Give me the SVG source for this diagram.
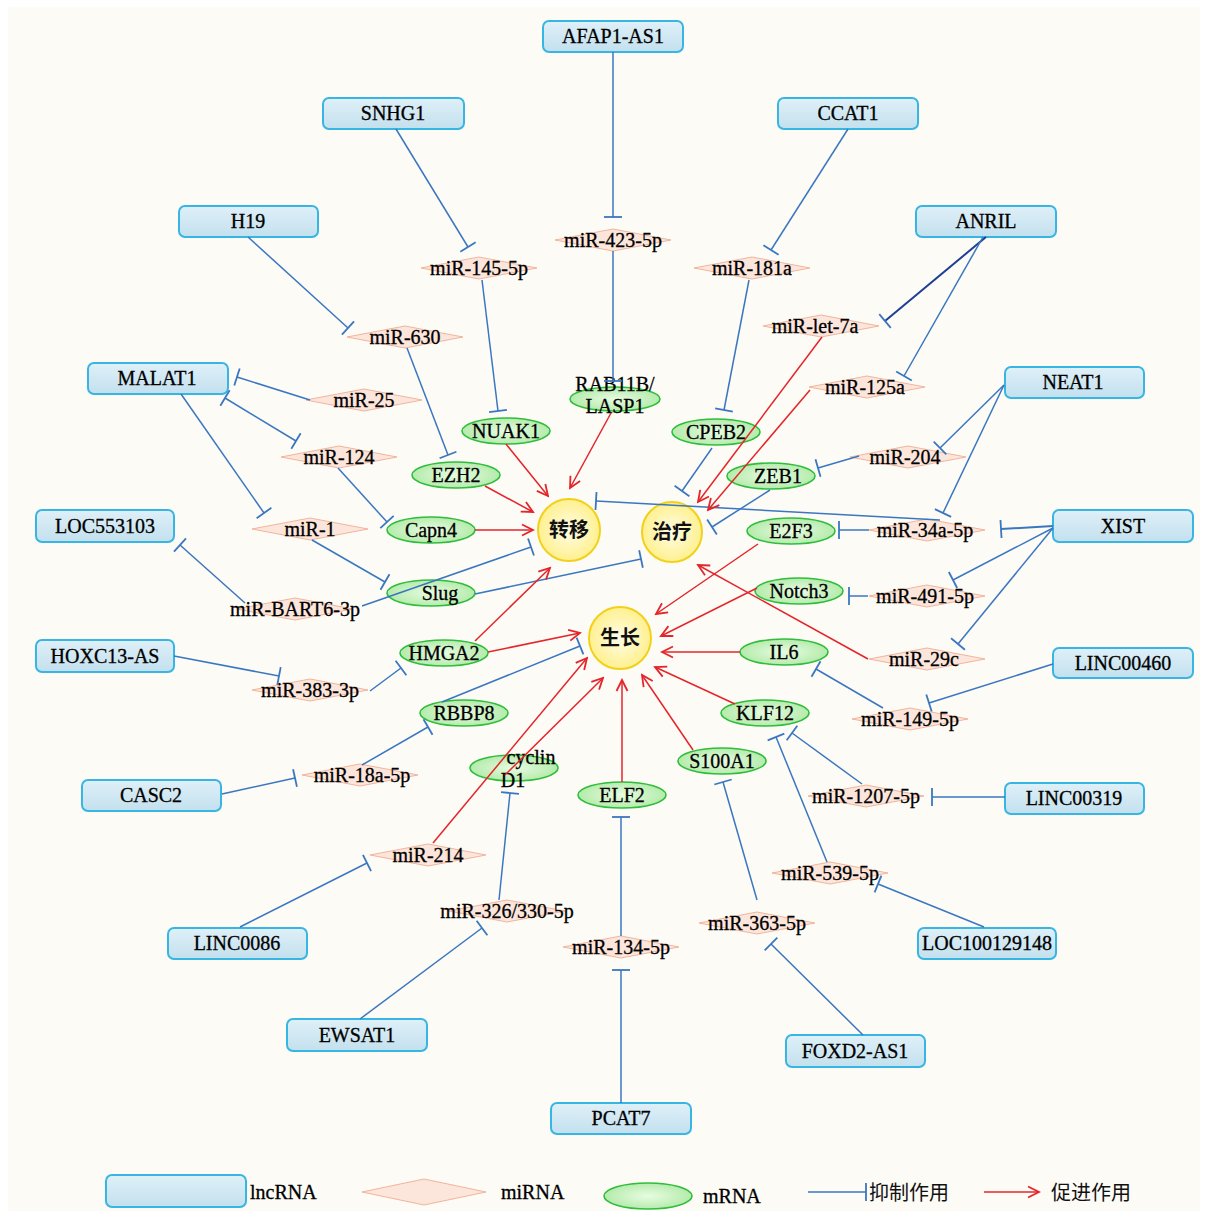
<svg xmlns="http://www.w3.org/2000/svg" width="1209" height="1218" viewBox="0 0 1209 1218">
<style>
.box{fill:url(#gb);stroke:#38b6e3;stroke-width:2}
.mi{fill:#fce6dc;stroke:#f3b49c;stroke-width:1}
.m{fill:url(#gg);stroke:#2fbd3c;stroke-width:1.6}
.c{fill:url(#gy);stroke:#f1d11c;stroke-width:2}
.t{font-family:"Liberation Serif","Times New Roman",serif;font-size:20px;fill:#000;stroke:#000;stroke-width:0.3;text-anchor:middle}
.tl{font-family:"Liberation Serif","Times New Roman",serif;font-size:20px;fill:#000;stroke:#000;stroke-width:0.3}
.zh{font-family:"Noto Sans CJK SC",sans-serif;font-size:20px;font-weight:bold;fill:#111;text-anchor:middle}
.zl{font-family:"Noto Sans CJK SC",sans-serif;font-size:20px;fill:#111}
.inh{stroke:#3a77c0;stroke-width:1.5;fill:none;marker-end:url(#bar)}
.pro{stroke:#e4252b;stroke-width:1.5;fill:none;marker-end:url(#arr)}
</style>
<defs>
<linearGradient id="gb" x1="0" y1="0" x2="0" y2="1"><stop offset="0" stop-color="#dff0f8"/><stop offset="1" stop-color="#c3e0ee"/></linearGradient>
<radialGradient id="gg"><stop offset="0" stop-color="#e8fce2"/><stop offset="1" stop-color="#b5ebac"/></radialGradient>
<radialGradient id="gy"><stop offset="0" stop-color="#fffde6"/><stop offset="1" stop-color="#fff08f"/></radialGradient>
<polygon id="dia" points="-58,0 0,-11 58,0 0,11"/>
<marker id="bar" viewBox="-2 -10 4 20" refX="0" refY="0" markerWidth="4" markerHeight="20" orient="auto" markerUnits="userSpaceOnUse"><path d="M0,-9V9" stroke="#3a77c0" stroke-width="1.8"/></marker>
<marker id="arr" viewBox="-12 -7 14 14" refX="0" refY="0" markerWidth="14" markerHeight="14" orient="auto" markerUnits="userSpaceOnUse"><path d="M-11,-5.5L0,0L-11,5.5" fill="none" stroke="#e4252b" stroke-width="1.8"/></marker>
</defs>
<rect x="0" y="0" width="1209" height="1218" fill="#ffffff"/>
<rect x="8" y="7" width="1192" height="1204" fill="#fdfbf5"/>

<!-- lncRNA nodes -->
<g id="AFAP1-AS1"><rect class="box" x="543" y="21" width="140" height="31" rx="6"/><text class="t" x="613" y="43">AFAP1-AS1</text></g>
<g id="SNHG1"><rect class="box" x="323" y="98" width="141" height="31" rx="6"/><text class="t" x="393" y="120">SNHG1</text></g>
<g id="CCAT1"><rect class="box" x="778" y="98" width="140" height="31" rx="6"/><text class="t" x="848" y="120">CCAT1</text></g>
<g id="H19"><rect class="box" x="179" y="206" width="139" height="31" rx="6"/><text class="t" x="248" y="228">H19</text></g>
<g id="ANRIL"><rect class="box" x="916" y="206" width="140" height="31" rx="6"/><text class="t" x="986" y="228">ANRIL</text></g>
<g id="MALAT1"><rect class="box" x="88" y="363" width="140" height="31" rx="6"/><text class="t" x="157" y="385">MALAT1</text></g>
<g id="NEAT1"><rect class="box" x="1005" y="367" width="139" height="31" rx="6"/><text class="t" x="1073" y="389">NEAT1</text></g>
<g id="LOC553103"><rect class="box" x="36" y="510" width="138" height="32" rx="6"/><text class="t" x="105" y="533">LOC553103</text></g>
<g id="XIST"><rect class="box" x="1053" y="510" width="140" height="32" rx="6"/><text class="t" x="1123" y="533">XIST</text></g>
<g id="HOXC13-AS"><rect class="box" x="36" y="640" width="138" height="32" rx="6"/><text class="t" x="105" y="663">HOXC13-AS</text></g>
<g id="LINC00460"><rect class="box" x="1053" y="648" width="140" height="30" rx="6"/><text class="t" x="1123" y="670">LINC00460</text></g>
<g id="CASC2"><rect class="box" x="82" y="780" width="139" height="31" rx="6"/><text class="t" x="151" y="802">CASC2</text></g>
<g id="LINC00319"><rect class="box" x="1005" y="783" width="139" height="31" rx="6"/><text class="t" x="1074" y="805">LINC00319</text></g>
<g id="LINC0086"><rect class="box" x="168" y="928" width="139" height="31" rx="6"/><text class="t" x="237" y="950">LINC0086</text></g>
<g id="LOC100129148"><rect class="box" x="918" y="928" width="138" height="31" rx="6"/><text class="t" x="987" y="950">LOC100129148</text></g>
<g id="EWSAT1"><rect class="box" x="287" y="1019" width="140" height="32" rx="6"/><text class="t" x="357" y="1042">EWSAT1</text></g>
<g id="FOXD2-AS1"><rect class="box" x="786" y="1035" width="139" height="32" rx="6"/><text class="t" x="855" y="1058">FOXD2-AS1</text></g>
<g id="PCAT7"><rect class="box" x="551" y="1103" width="140" height="31" rx="6"/><text class="t" x="621" y="1125">PCAT7</text></g>

<!-- miRNA nodes -->
<g id="miR-423-5p"><use href="#dia" class="mi" x="613" y="240"/><text class="t" x="613" y="247">miR-423-5p</text></g>
<g id="miR-145-5p"><use href="#dia" class="mi" x="479" y="268"/><text class="t" x="479" y="275">miR-145-5p</text></g>
<g id="miR-181a"><use href="#dia" class="mi" x="752" y="268"/><text class="t" x="752" y="275">miR-181a</text></g>
<g id="miR-630"><use href="#dia" class="mi" x="405" y="337"/><text class="t" x="405" y="344">miR-630</text></g>
<g id="miR-let-7a"><use href="#dia" class="mi" x="821" y="326"/><text class="t" x="815" y="333">miR-let-7a</text></g>
<g id="miR-125a"><use href="#dia" class="mi" x="867" y="387"/><text class="t" x="865" y="394">miR-125a</text></g>
<g id="miR-25"><use href="#dia" class="mi" x="364" y="400"/><text class="t" x="364" y="407">miR-25</text></g>
<g id="miR-124"><use href="#dia" class="mi" x="339" y="457"/><text class="t" x="339" y="464">miR-124</text></g>
<g id="miR-1"><use href="#dia" class="mi" x="310" y="529"/><text class="t" x="310" y="536">miR-1</text></g>
<g id="miR-204"><use href="#dia" class="mi" x="908" y="457"/><text class="t" x="905" y="464">miR-204</text></g>
<g id="miR-34a-5p"><use href="#dia" class="mi" x="927" y="530"/><text class="t" x="925" y="537">miR-34a-5p</text></g>
<g id="miR-BART6-3p"><use href="#dia" class="mi" x="295" y="609"/><text class="t" x="295" y="616">miR-BART6-3p</text></g>
<g id="miR-491-5p"><use href="#dia" class="mi" x="927" y="596"/><text class="t" x="925" y="603">miR-491-5p</text></g>
<g id="miR-29c"><use href="#dia" class="mi" x="927" y="659"/><text class="t" x="924" y="666">miR-29c</text></g>
<g id="miR-383-3p"><use href="#dia" class="mi" x="310" y="690"/><text class="t" x="310" y="697">miR-383-3p</text></g>
<g id="miR-149-5p"><use href="#dia" class="mi" x="910" y="719"/><text class="t" x="910" y="726">miR-149-5p</text></g>
<g id="miR-18a-5p"><use href="#dia" class="mi" x="360" y="775"/><text class="t" x="362" y="782">miR-18a-5p</text></g>
<g id="miR-1207-5p"><use href="#dia" class="mi" x="866" y="796"/><text class="t" x="866" y="803">miR-1207-5p</text></g>
<g id="miR-214"><use href="#dia" class="mi" x="428" y="855"/><text class="t" x="428" y="862">miR-214</text></g>
<g id="miR-539-5p"><use href="#dia" class="mi" x="830" y="873"/><text class="t" x="830" y="880">miR-539-5p</text></g>
<g id="miR-326-330-5p"><use href="#dia" class="mi" x="507" y="911"/><text class="t" x="507" y="918">miR-326/330-5p</text></g>
<g id="miR-363-5p"><use href="#dia" class="mi" x="757" y="923"/><text class="t" x="757" y="930">miR-363-5p</text></g>
<g id="miR-134-5p"><use href="#dia" class="mi" x="621" y="947"/><text class="t" x="621" y="954">miR-134-5p</text></g>

<!-- mRNA nodes -->
<g id="RAB11B-LASP1"><ellipse class="m" cx="615" cy="399" rx="45" ry="12"/><text class="t" x="615" y="391">RAB11B/</text><text class="t" x="615" y="413">LASP1</text></g>
<g id="NUAK1"><ellipse class="m" cx="506" cy="431" rx="44" ry="13"/><text class="t" x="506" y="438">NUAK1</text></g>
<g id="EZH2"><ellipse class="m" cx="456" cy="475" rx="44" ry="13"/><text class="t" x="456" y="482">EZH2</text></g>
<g id="Capn4"><ellipse class="m" cx="431" cy="530" rx="44" ry="13"/><text class="t" x="431" y="537">Capn4</text></g>
<g id="Slug"><ellipse class="m" cx="431" cy="593" rx="44" ry="13"/><text class="t" x="440" y="600">Slug</text></g>
<g id="HMGA2"><ellipse class="m" cx="444" cy="653" rx="44" ry="13"/><text class="t" x="444" y="660">HMGA2</text></g>
<g id="RBBP8"><ellipse class="m" cx="464" cy="713" rx="44" ry="13"/><text class="t" x="464" y="720">RBBP8</text></g>
<g id="cyclinD1"><ellipse class="m" cx="514" cy="768" rx="44" ry="13"/><text class="t" x="531" y="764">cyclin</text><text class="t" x="513" y="787">D1</text></g>
<g id="ELF2"><ellipse class="m" cx="622" cy="795" rx="44" ry="13"/><text class="t" x="622" y="802">ELF2</text></g>
<g id="S100A1"><ellipse class="m" cx="722" cy="761" rx="44" ry="13"/><text class="t" x="722" y="768">S100A1</text></g>
<g id="KLF12"><ellipse class="m" cx="765" cy="713" rx="44" ry="13"/><text class="t" x="765" y="720">KLF12</text></g>
<g id="IL6"><ellipse class="m" cx="784" cy="652" rx="44" ry="13"/><text class="t" x="784" y="659">IL6</text></g>
<g id="Notch3"><ellipse class="m" cx="799" cy="591" rx="44" ry="13"/><text class="t" x="799" y="598">Notch3</text></g>
<g id="E2F3"><ellipse class="m" cx="791" cy="531" rx="44" ry="13"/><text class="t" x="791" y="538">E2F3</text></g>
<g id="ZEB1"><ellipse class="m" cx="771" cy="476" rx="44" ry="13"/><text class="t" x="778" y="483">ZEB1</text></g>
<g id="CPEB2"><ellipse class="m" cx="716" cy="432" rx="44" ry="13"/><text class="t" x="716" y="439">CPEB2</text></g>

<!-- outcome nodes -->
<g id="metastasis"><circle class="c" cx="569" cy="530" r="31"/><text class="zh" x="569" y="537">转移</text></g>
<g id="therapy"><circle class="c" cx="672" cy="532" r="30"/><text class="zh" x="672" y="539">治疗</text></g>
<g id="growth"><circle class="c" cx="620" cy="638" r="31"/><text class="zh" x="620" y="645">生长</text></g>

<!-- connectors -->
<g id="connectors">
<path class="inh" d="M613,52L613,217"/>
<path class="inh" d="M613,251L613,381"/>
<path class="inh" d="M396,129L468,247"/>
<path class="inh" d="M482,280L498,411"/>
<path class="inh" d="M848,129L771,250"/>
<path class="inh" d="M749,280L724,410"/>
<path class="inh" d="M248,237L348,328"/>
<path class="inh" d="M407,348L448,455"/>
<path class="inh" d="M986,237L885,321" style="stroke:#1e3f95;stroke-width:2"/>
<path class="inh" d="M983,237L904,376"/>
<path class="inh" d="M310,400L237,377"/>
<path class="inh" d="M296,441L225,398" marker-start="url(#bar)"/>
<path class="inh" d="M181,394L264,513"/>
<path class="inh" d="M338,468L387,522"/>
<path class="inh" d="M312,540L385,582"/>
<path class="inh" d="M245,603L180,545"/>
<path class="inh" d="M362,606L531,547"/>
<path class="inh" d="M475,594L641,559"/>
<path class="inh" d="M174,656L279,676"/>
<path class="inh" d="M370,691L401,668"/>
<path class="inh" d="M442,702L580,646"/>
<path class="inh" d="M362,765L428,727"/>
<path class="inh" d="M222,794L295,778"/>
<path class="inh" d="M499,900L510,793"/>
<path class="inh" d="M360,1019L482,928"/>
<path class="inh" d="M240,927L367,863"/>
<path class="inh" d="M984,927L878,884"/>
<path class="inh" d="M863,1035L771,944"/>
<path class="inh" d="M757,900L723,782"/>
<path class="inh" d="M827,862L776,737"/>
<path class="inh" d="M862,784L792,733"/>
<path class="inh" d="M1005,797L932,797"/>
<path class="inh" d="M1053,664L929,703"/>
<path class="inh" d="M883,708L816,669"/>
<path class="inh" d="M868,596L849,596"/>
<path class="inh" d="M869,530L839,530"/>
<path class="inh" d="M1053,526L1001,529" style="stroke-width:2"/>
<path class="inh" d="M1053,528L953,580"/>
<path class="inh" d="M1053,528L958,644"/>
<path class="inh" d="M1004,385L940,448"/>
<path class="inh" d="M1004,385L943,513"/>
<path class="inh" d="M940,520L596,501"/>
<path class="inh" d="M859,456L818,468"/>
<path class="inh" d="M712,448L682,491"/>
<path class="inh" d="M770,490L712,527"/>
<path class="inh" d="M621,1103L621,970"/>
<path class="inh" d="M621,936L621,817"/>
<path class="pro" d="M506,444L548,496"/>
<path class="pro" d="M611,413L570,488"/>
<path class="pro" d="M485,486L533,512"/>
<path class="pro" d="M475,530L533,530"/>
<path class="pro" d="M475,641L550,568"/>
<path class="pro" d="M488,652L580,633"/>
<path class="pro" d="M433,843L587,658"/>
<path class="pro" d="M505,775L603,678"/>
<path class="pro" d="M622,782L622,680"/>
<path class="pro" d="M693,750L642,675"/>
<path class="pro" d="M735,704L655,667"/>
<path class="pro" d="M740,652L662,652"/>
<path class="pro" d="M757,588L661,636"/>
<path class="pro" d="M758,544L656,614"/>
<path class="pro" d="M822,337L698,502"/>
<path class="pro" d="M810,390L708,510"/>
<path class="pro" d="M868,659L698,565"/>
</g>

<!-- legend -->
<g id="legend">
<rect class="box" x="106" y="1175" width="140" height="32" rx="6"/>
<text class="tl" x="250" y="1199">lncRNA</text>
<polygon class="mi" points="362,1192 424,1179 486,1192 424,1205"/>
<text class="tl" x="501" y="1199">miRNA</text>
<ellipse class="m" cx="648" cy="1196" rx="44" ry="13"/>
<text class="tl" x="703" y="1203">mRNA</text>
<path class="inh" d="M808,1192L866,1192"/>
<text class="zl" x="869" y="1200">抑制作用</text>
<path class="pro" d="M984,1192L1039,1192"/>
<text class="zl" x="1051" y="1200">促进作用</text>
</g>
</svg>
